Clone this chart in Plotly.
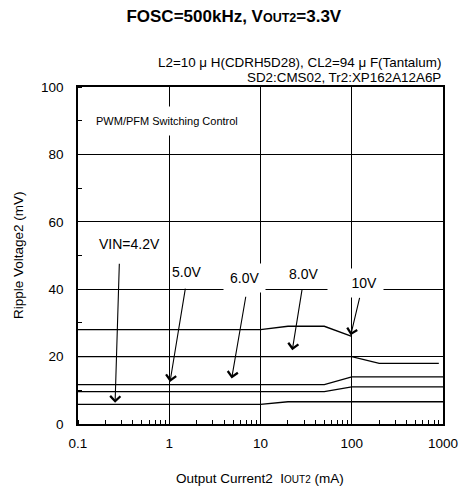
import math
import plotly.graph_objects as go

# Data
vin_labels = ["VIN=4.2V", "5.0V", "6.0V", "8.0V", "10V"]
x_42 = [0.1, 10, 20, 1000]
y_42 = [5.8, 5.8, 6.6, 6.6]
x_50 = [0.1, 50, 100, 1000]
y_50 = [9.6, 9.6, 11.0, 11.0]
x_60 = [0.1, 50, 100, 1000]
y_60 = [11.7, 11.7, 14.0, 14.0]
x_80 = [0.1, 100, 200, 900]
y_80 = [20.0, 20.0, 18.0, 18.0]
x_10 = [0.1, 10, 20, 50, 100]
y_10 = [28.0, 28.0, 29.0, 29.0, 26.0]

x_tickvals = [0.1, 1, 10, 100, 1000]
x_ticktext = ["0.1", "1", "10", "100", "1000"]
y_tickvals = [0, 20, 40, 60, 80, 100]

# label positions (text) and arrows (tail -> tip) in data units
label_pos = [(0.37, 53.3), (1.55, 45.1), (6.76, 43.3), (29.4, 44.6), (110, 41.9)]
arrow_tail = [(0.284, 48.0), (1.51, 40.6), (6.94, 38.2), (28.7, 40.3), (123, 37.9)]
arrow_tip = [(0.255, 6.3), (1.02, 12.5), (4.83, 13.5), (22.3, 21.9), (97.3, 26.3)]

W, H = 463, 488
ML, MR, MT, MB = 78, 20, 87, 64
PW, PH = W - ML - MR, H - MT - MB

def px_x(p):
    return (p - ML) / PW

def px_y(p):
    return (H - MB - p) / PH

fig = go.Figure()
for xs, ys, nm in [(x_42, y_42, vin_labels[0]), (x_50, y_50, vin_labels[1]),
                   (x_60, y_60, vin_labels[2]), (x_80, y_80, vin_labels[3]),
                   (x_10, y_10, vin_labels[4])]:
    fig.add_trace(go.Scatter(x=xs, y=ys, mode="lines", name=nm,
                             line=dict(color="black", width=1.3),
                             showlegend=False, hoverinfo="skip"))

font = "Liberation Sans, Arial, sans-serif"
annotations = []
for lab, (lx, ly) in zip(vin_labels, label_pos):
    a = dict(x=math.log10(lx), y=ly, xref="x", yref="y", text=lab,
             showarrow=False, font=dict(size=14, color="black", family=font),
             bgcolor="rgba(0,0,0,0)", borderpad=6)
    if lab == "6.0V":
        a["bgcolor"] = "white"
    if lab == "10V":
        a.update(bgcolor="white", width=43, align="right")
    annotations.append(a)
for (tx, ty), (hx, hy) in zip(arrow_tail, arrow_tip):
    annotations.append(dict(x=math.log10(hx), y=hy, ax=math.log10(tx), ay=ty,
                            xref="x", yref="y", axref="x", ayref="y", text="",
                            showarrow=True, arrowhead=4, arrowsize=1.8,
                            arrowwidth=1.1, arrowcolor="black", standoff=0))
annotations.append(dict(x=math.log10(0.1255), y=90, xref="x", yref="y", xanchor="left",
                        text="PWM/PFM Switching Control", showarrow=False,
                        font=dict(size=11, color="black", family=font),
                        bgcolor="white", borderpad=8))
annotations.append(dict(x=1, y=px_y(62), xref="paper", yref="paper", yanchor="middle",
                        xanchor="right", showarrow=False,
                        text="L2=10 μ H(CDRH5D28), CL2=94 μ F(Tantalum)",
                        font=dict(size=13.4, color="black", family=font)))
annotations.append(dict(x=1, y=px_y(77), xref="paper", yref="paper", yanchor="middle",
                        xanchor="right", showarrow=False,
                        text="SD2:CMS02, Tr2:XP162A12A6P",
                        font=dict(size=13.4, color="black", family=font)))
# axis titles
annotations.append(dict(x=px_x(260), y=px_y(478), xref="paper", yref="paper",
                        xanchor="center", yanchor="middle", showarrow=False,
                        text="Output Current2  I<span style='font-size:10px'>OUT2</span> (mA)",
                        font=dict(size=13.5, color="black", family=font)))
annotations.append(dict(x=px_x(18), y=px_y(255), xref="paper", yref="paper",
                        xanchor="center", yanchor="middle", showarrow=False, textangle=-90,
                        text="Ripple Voltage2 (mV)",
                        font=dict(size=13.5, color="black", family=font)))

fig.update_layout(
    width=W, height=H,
    margin=dict(l=ML, r=MR, t=MT, b=MB, autoexpand=False),
    paper_bgcolor="white", plot_bgcolor="white",
    font=dict(family=font, size=13.5, color="black"),
    title=dict(text="<b>FOSC=500kHz, V<span style='font-size:12.5px'>OUT2</span>=3.3V</b>",
               x=0.505, xanchor="center", y=1 - 16 / H, yanchor="middle",
               font=dict(size=17, family=font, color="black")),
    annotations=annotations,
)
fig.update_xaxes(type="log", range=[-1, 3], tickvals=x_tickvals, ticktext=x_ticktext,
                 showgrid=True, gridcolor="black", gridwidth=1,
                 showline=True, mirror=True, linecolor="black", linewidth=1.5,
                 ticks="", ticklabelstandoff=6, zeroline=False, automargin=False,
                 minor=dict(ticks="inside", ticklen=4, tickcolor="black", tickwidth=1,
                            dtick="D1", showgrid=False))
fig.update_yaxes(range=[0, 100], tickvals=y_tickvals,
                 showgrid=True, gridcolor="black", gridwidth=1,
                 showline=True, mirror=True, linecolor="black", linewidth=1.5,
                 ticks="", ticklabelstandoff=10, zeroline=False, automargin=False,
                 minor=dict(ticks="inside", ticklen=4, tickcolor="black", tickwidth=1,
                            dtick=10, showgrid=False))

fig.write_html("out.html", config={"displayModeBar": False},
               post_script="document.body.style.margin='0';document.body.style.overflow='hidden';")
